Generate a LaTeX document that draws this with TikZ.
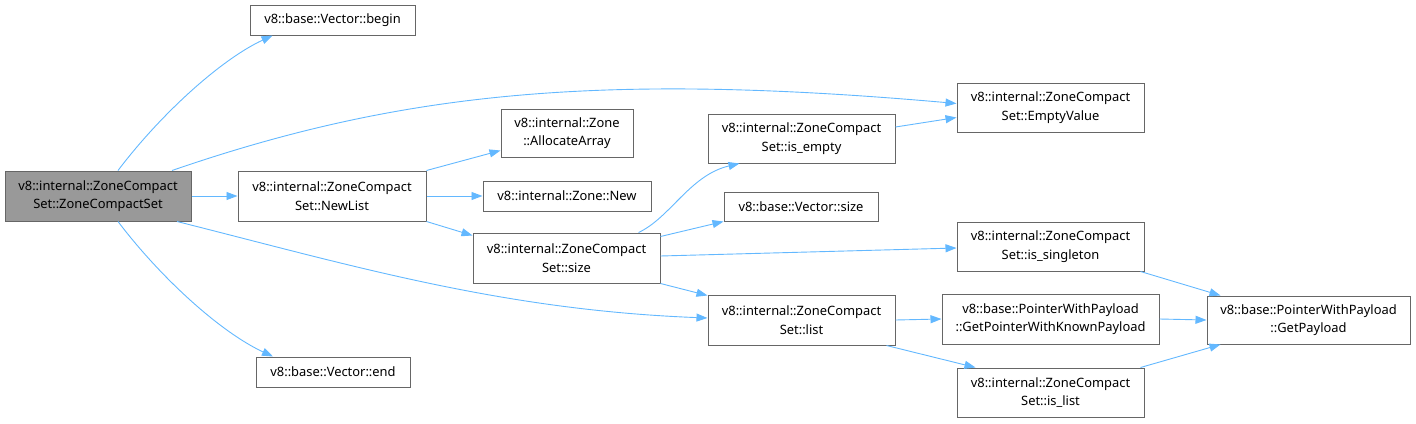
\documentclass[tikz,border=0pt]{standalone}
\usepackage{fontspec}
\setmainfont{Noto Sans}
\usetikzlibrary{arrows.meta}
\definecolor{edgec}{HTML}{63B8FF}
\definecolor{boxc}{HTML}{666666}
\definecolor{mainfill}{HTML}{999999}
\tikzset{
  fn/.style={draw=boxc, line width=1pt, fill=white, align=center, inner sep=0pt,
    font=\fontsize{12.9}{18.5}\selectfont, text=black},
  mainfn/.style={fn, fill=mainfill},
  call/.style={draw=edgec, line width=0.9pt, -{Triangle[length=11pt,width=8pt]}},
}
\begin{document}
\begin{tikzpicture}[x=1pt,y=-1pt]
\useasboundingbox (0,0) rectangle (1416,423);
\node[mainfn, minimum width=186pt, minimum height=50pt] (main) at (98,196) {v8::internal::ZoneCompact\\Set::ZoneCompactSet};
\node[fn, minimum width=165pt, minimum height=30pt] (begin) at (332.5,20) {v8::base::Vector::begin};
\node[fn, minimum width=188pt, minimum height=50pt] (newlist) at (332,196) {v8::internal::ZoneCompact\\Set::NewList};
\node[fn, minimum width=154pt, minimum height=30pt] (end) at (333,372) {v8::base::Vector::end};
\node[fn, minimum width=132pt, minimum height=48pt] (alloc) at (567,133) {v8::internal::Zone\\::AllocateArray};
\node[fn, minimum width=168pt, minimum height=30pt] (znew) at (567,196) {v8::internal::Zone::New};
\node[fn, minimum width=187pt, minimum height=50pt] (size) at (566.5,258) {v8::internal::ZoneCompact\\Set::size};
\node[fn, minimum width=187pt, minimum height=49pt] (isempty) at (801.5,138.5) {v8::internal::ZoneCompact\\Set::is\_empty};
\node[fn, minimum width=154pt, minimum height=29pt] (vsize) at (801,206.5) {v8::base::Vector::size};
\node[fn, minimum width=187pt, minimum height=50pt] (list) at (801.5,320) {v8::internal::ZoneCompact\\Set::list};
\node[fn, minimum width=187pt, minimum height=49pt] (empty) at (1050.5,107.5) {v8::internal::ZoneCompact\\Set::EmptyValue};
\node[fn, minimum width=187pt, minimum height=49pt] (single) at (1050.5,246.5) {v8::internal::ZoneCompact\\Set::is\_singleton};
\node[fn, minimum width=217pt, minimum height=50pt] (gpwkp) at (1050.5,319) {v8::base::PointerWithPayload\\::GetPointerWithKnownPayload};
\node[fn, minimum width=187pt, minimum height=49pt] (islist) at (1050.5,392.5) {v8::internal::ZoneCompact\\Set::is\_list};
\node[fn, minimum width=203pt, minimum height=48pt] (payload) at (1308.5,320) {v8::base::PointerWithPayload\\::GetPayload};

\draw[call] ([xshift=20pt]main.north) .. controls (160,115) and (220,60) .. ([xshift=-60pt]begin.south);
\draw[call] ([xshift=74pt]main.north) .. controls (400,92) and (600,72) .. ([yshift=4pt]empty.west);
\draw[call] (main.east) -- (newlist.west);
\draw[call] ([xshift=79pt]main.south) .. controls (350,265) and (500,310) .. ([yshift=2pt]list.west);
\draw[call] ([xshift=20pt]main.south) .. controls (160,277) and (220,332) .. ([xshift=-60pt]end.north);
\draw[call] (newlist.north east) -- ([yshift=7pt]alloc.south west);
\draw[call] (newlist.east) -- (znew.west);
\draw[call] (newlist.south east) -- ([yshift=-3pt]size.north west);
\draw[call] ([xshift=72pt]size.north) .. controls (670,218) and (690,175) .. ([xshift=-62pt]isempty.south);
\draw[call] ([yshift=-4pt]size.north east) -- (vsize.south west);
\draw[call] ([yshift=2pt]size.east) -- ([yshift=-1.5pt]single.west);
\draw[call] (size.south east) -- ([yshift=-1pt]list.north west);
\draw[call] ([yshift=11.5pt]isempty.east) -- ([yshift=-10pt]empty.west);
\draw[call] ([xshift=90pt]single.south) -- ([xshift=-88pt]payload.north);
\draw[call] (list.east) -- (gpwkp.west);
\draw[call] (gpwkp.east) -- (payload.west);
\draw[call] ([xshift=85pt]list.south) -- ([xshift=-75pt]islist.north);
\draw[call] ([xshift=90pt]islist.north) -- ([xshift=-88pt]payload.south);
\end{tikzpicture}
\end{document}
